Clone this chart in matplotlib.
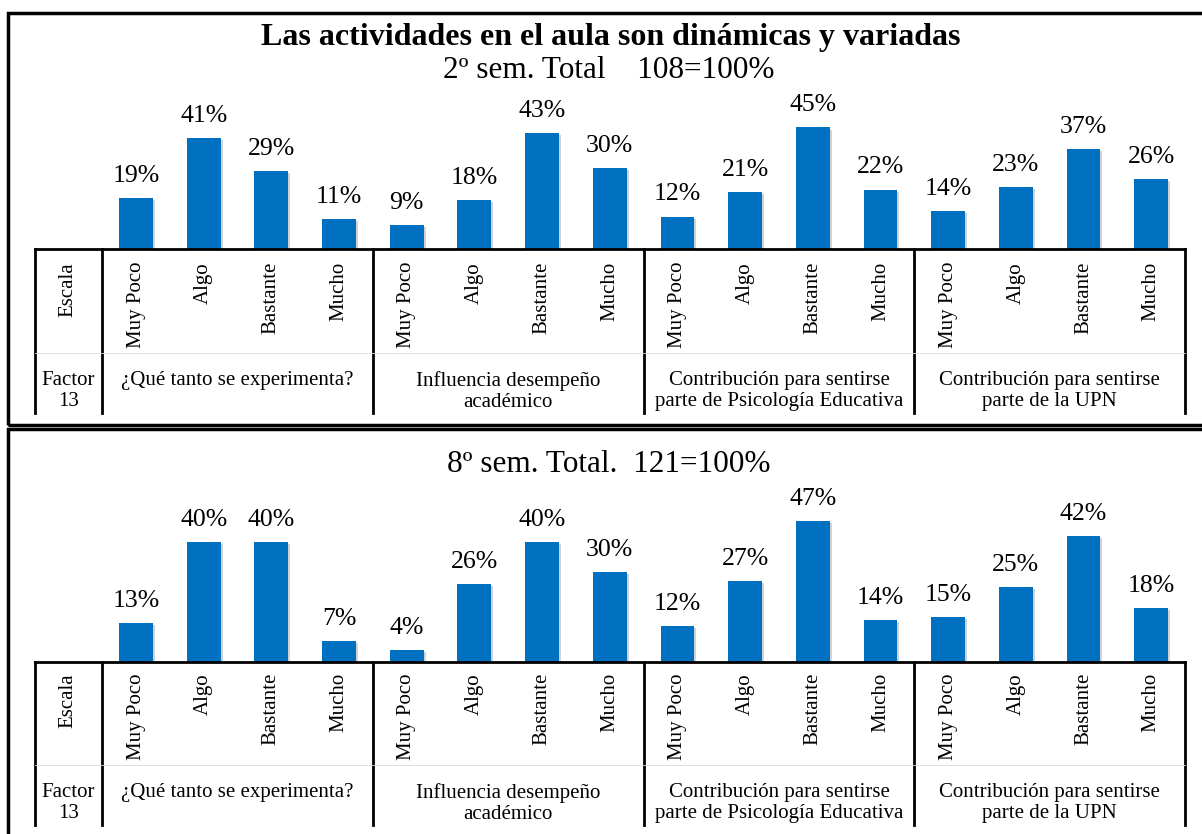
import matplotlib
matplotlib.use("Agg")
import matplotlib.pyplot as plt
import matplotlib.transforms as mtransforms
import matplotlib.patheffects as pe
from matplotlib.patches import Rectangle

plt.rcParams['font.family'] = ['Liberation Serif', 'DejaVu Serif']

# datos
escala = ['Muy Poco', 'Algo', 'Bastante', 'Mucho']
grupos = ['¿Qué tanto se experimenta?',
          'Influencia desempeño\nacadémico',
          'Contribución para sentirse\nparte de Psicología Educativa',
          'Contribución para sentirse\nparte de la UPN']
sem2 = [19, 41, 29, 11, 9, 18, 43, 30, 12, 21, 45, 22, 14, 23, 37, 26]
sem8 = [13, 40, 40, 7, 4, 26, 40, 30, 12, 27, 47, 14, 15, 25, 42, 18]

titulo = 'Las actividades en el aula son dinámicas y variadas'
sub2 = '2º sem. Total    108=100%'
sub8 = '8º sem. Total.  121=100%'

W, H = 1202, 834
AZUL = '#0070C0'

fig = plt.figure(figsize=(W / 100, H / 100), dpi=100)


def fy(y):
    # pixel (desde arriba) -> fraccion de figura
    return 1 - y / H


def fx(x):
    return x / W


def panel(valores, base, escala_px, y_top_tabla, y_sep, y_bot):
    x0, x1 = 34.5, 1185
    alto = 200
    ax = fig.add_axes([fx(x0), fy(base), fx(x1) - fx(x0), alto / H])
    ax.set_xlim(-1.5, 15.5)
    ax.set_ylim(0, alto / escala_px)
    X = range(len(valores))
    barras = ax.bar(X, valores, width=0.5, color=AZUL, zorder=2)
    for b in barras:
        b.set_path_effects([pe.SimplePatchShadow(offset=(1.5, -1.5), shadow_rgbFace='gray', alpha=0.35),
                            pe.Normal()])
    for x, y in zip(X, valores):
        ax.annotate('%d%%' % y, (x, y), xytext=(0, 8), textcoords='offset points',
                    ha='center', va='bottom', fontsize=18.5)
    for s in ['top', 'right', 'left']:
        ax.spines[s].set_visible(False)
    ax.spines['bottom'].set_linewidth(2)
    ax.set_xticks([])
    ax.set_yticks([])
    ax.patch.set_alpha(0)

    tr = mtransforms.blended_transform_factory(ax.transData, fig.transFigure)
    # lineas verticales de la tabla
    for xv in [-1.5, -0.5, 3.5, 7.5, 11.5, 15.5]:
        ax.plot([xv, xv], [fy(base), fy(y_bot)], color='black', lw=2,
                transform=tr, clip_on=False)
    ax.plot([-1.5, 15.5], [fy(y_sep), fy(y_sep)], color='#d9d9d9', lw=0.6,
            transform=tr, clip_on=False)
    # etiquetas giradas
    ax.text(-1, fy(y_top_tabla), 'Escala', rotation=90, ha='center', va='top',
            fontsize=15, transform=tr)
    for i in range(16):
        ax.text(i, fy(y_top_tabla), escala[i % 4], rotation=90, ha='center', va='top',
                fontsize=15, transform=tr)
    ax.text(-1, fy(y_sep + 18), 'Factor\n13', ha='center', va='top', fontsize=15,
            linespacing=1.15, transform=tr)
    for g, nombre in enumerate(grupos):
        ax.text(g * 4 + 1.5, fy(y_sep + 18), nombre, ha='center', va='top', fontsize=15,
                linespacing=1.15, transform=tr)
    return ax


# marcos exteriores
fig.add_artist(Rectangle((fx(8), fy(425)), fx(1210) - fx(8), fy(13) - fy(425),
                         fill=False, lw=2.5, ec='black', transform=fig.transFigure))
fig.add_artist(Rectangle((fx(8), fy(845)), fx(1210) - fx(8), fy(429) - fy(845),
                         fill=False, lw=2.5, ec='black', transform=fig.transFigure))

fig.text(fx(611), fy(37), titulo, ha='center', va='center', fontsize=23, fontweight='bold')
fig.text(fx(609), fy(70), sub2, ha='center', va='center', fontsize=22.5)
fig.text(fx(609), fy(465), sub8, ha='center', va='center', fontsize=22.5)

panel(sem2, 249, 2.7, 262, 353, 413)
panel(sem8, 662, 3.0, 673, 765, 825)

fig.savefig('out.png', dpi=100)
